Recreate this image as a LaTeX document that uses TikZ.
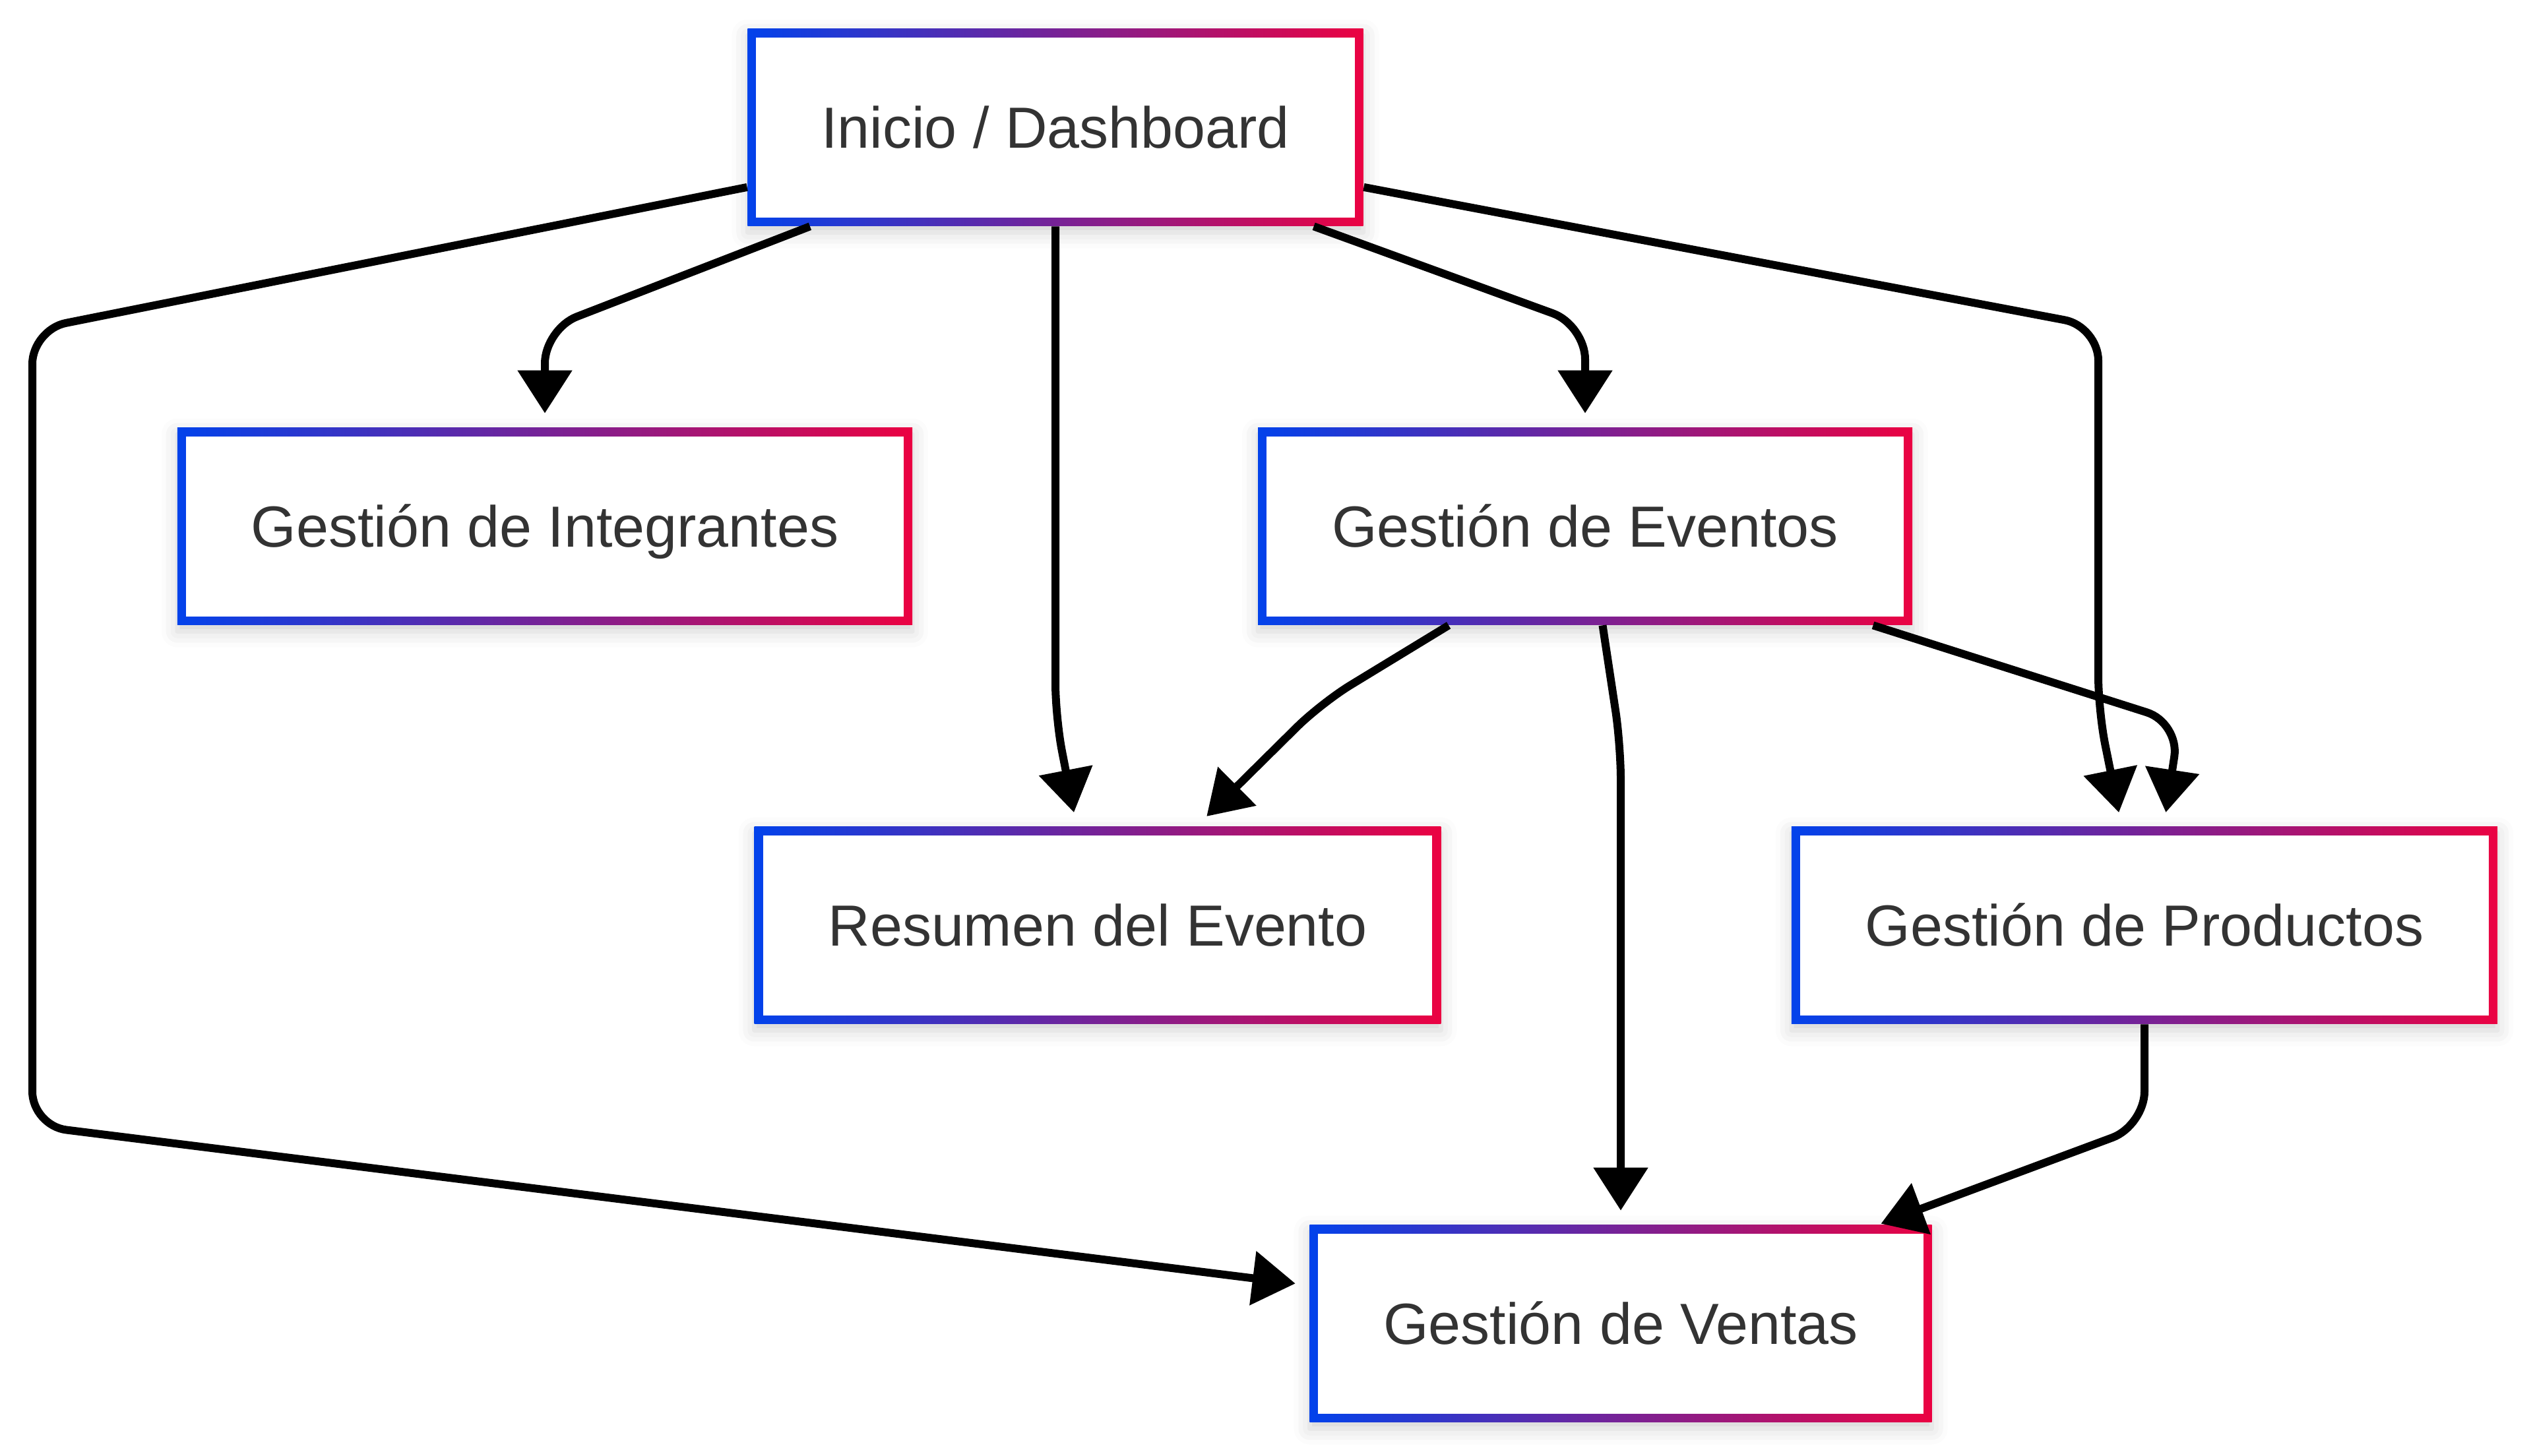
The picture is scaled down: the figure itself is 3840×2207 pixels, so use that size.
\documentclass[tikz,border=0pt]{standalone}
\usepackage{fontspec}
\setmainfont{Liberation Sans}
\usetikzlibrary{calc,shapes,arrows.meta,shadows.blur}
\definecolor{gradblue}{RGB}{2,66,235}
\definecolor{gradred}{RGB}{235,2,66}
\definecolor{textgray}{RGB}{51,51,51}

\begin{document}
\begin{tikzpicture}[x=0.25pt,y=-0.25pt]
                    \tikzstyle{page}=[rectangle,left color=gradblue,right color=gradred,text=textgray,font=\fontsize{22pt}{26pt}\selectfont,text height=15.75pt,text depth=0pt,minimum height=74.75pt,inner xsep=28pt,inner ysep=0pt,
                        path picture={\fill[white] ([shift={(3.25pt,3.25pt)}]path picture bounding box.south west) rectangle ([shift={(-3.25pt,-3.25pt)}]path picture bounding box.north east);},
                        blur shadow={shadow xshift=0pt,shadow yshift=-2.5pt,shadow blur radius=6pt,shadow opacity=18}]
                    \tikzstyle{link}=[draw=black,line width=3pt,rounded corners=13pt,-{Triangle[length=16.25pt,width=20pt]},shorten >=5.25pt]
                    \useasboundingbox (0,0) rectangle (3840,2207);
                    {
                        \node[page] (inicio) at (1600,193) {Inicio / Dashboard};
                        \node[page] (integrantes) at (826,798) {Gestión de Integrantes};
                        \node[page] (eventos) at (2403,798) {Gestión de Eventos};
                        \node[page] (resumen) at (1664,1403) {Resumen del Evento};
                        \node[page] (productos) at (3251,1403) {Gestión de Productos};
                        \node[page] (ventas) at (2457,2007) {Gestión de Ventas};
                    }
                    % from the dashboard
                    \draw[link] (inicio.202) -- (826,499) -- (integrantes.north);
                    \draw[link] (inicio.south) -- (1600,1088) -- (resumen.102);
                    \draw[link] (inicio.339) -- (2403,493) -- (eventos.north);
                    \draw[link] (inicio.349) -- (3181,495) -- (3181,1078) -- (productos.103);
                    \draw[link] (inicio.191) -- (49,500) -- (49,1707) -- (ventas.173);
                    % from events
                    \draw[link] (eventos.216) -- (2003,1066) -- (resumen.45);
                    \draw[link] (eventos.280) -- (2457,1130) -- (ventas.north);
                    \draw[link] (eventos.341) -- (3304,1096) -- (productos.79);
                    % from products
                    \draw[link,shorten >=0.75pt] (productos.south) -- (3251,1707) -- (ventas.21);
\end{tikzpicture}
\end{document}
